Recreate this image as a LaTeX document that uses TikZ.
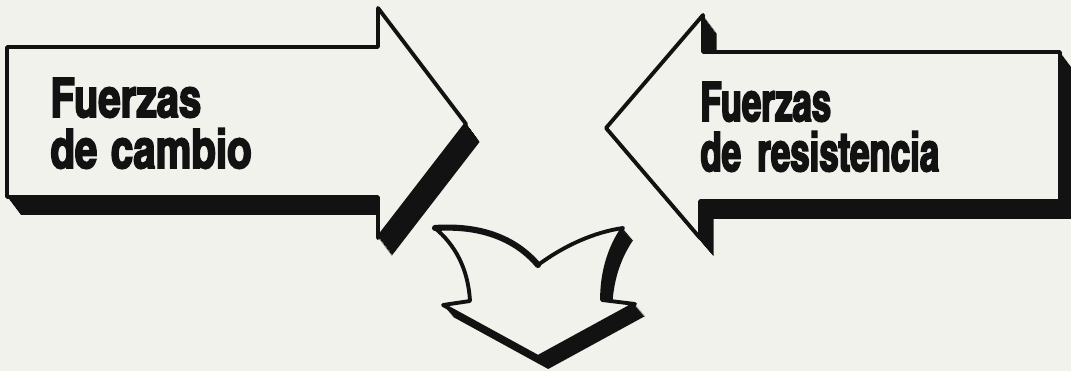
\documentclass[tikz,border=0pt]{standalone}
\usepackage{fontspec}
\newfontfamily\changefont{texgyreheroscn-bold.otf}[FakeBold=3, FakeStretch=0.9]
\newfontfamily\resistfont{texgyreheroscn-bold.otf}[FakeBold=3, FakeStretch=0.78]
\definecolor{paper}{RGB}{242,242,236}
\definecolor{ink}{RGB}{18,18,18}
\tikzset{
  change shape/.style={insert path={(7,47) -- (378,47) -- (378,8) -- (466,124)
      -- (378,238) -- (378,197) -- (7,197) -- cycle}},
  resist shape/.style={insert path={(1060,52) -- (703,52) -- (703,15) -- (606,128)
      -- (700,238) -- (700,201) -- (1060,201) -- cycle}},
  outcome shape/.style={insert path={(435,228) .. controls (480,225) and (515,238) .. (538,265)
      .. controls (565,245) and (595,232) .. (623,228)
      .. controls (608,250) and (602,275) .. (602,300)
      -- (635,304) -- (538,357) -- (443,305) -- (470,301)
      .. controls (468,268) and (455,245) .. (435,228) -- cycle}},
  arrowface/.style={fill=paper, draw=ink, line width=2.2pt, line join=round},
  arrowtext/.style={text=ink, inner sep=0pt, anchor=base west}
}
\begin{document}
\begin{tikzpicture}[x=0.02cm, y=-0.02cm]
  \fill[paper] (0,0) rectangle (1071,371);
  \useasboundingbox (0,0) rectangle (1071,371);
  % shadows
  \foreach \k in {1,...,18} {
    \fill[ink, shift={(\k*0.75,\k)}, change shape];
    \fill[ink, shift={(\k*0.75,\k)}, resist shape];
  }
  \foreach \k in {1,...,12}
    \fill[ink, shift={(\k*0.85,\k)}, outcome shape];
  % faces
  \path[arrowface, change shape];
  \path[arrowface, resist shape];
  \path[arrowface, outcome shape];
  \draw[ink, line width=3.5pt, line cap=round]
    (435,228) .. controls (480,225) and (515,238) .. (538,265);
  % labels
  \node[arrowtext, font=\changefont\fontsize{31}{36}\selectfont] (chgtop) at (50,117) {Fuerzas};
  \node[arrowtext, font=\changefont\fontsize{31}{36}\selectfont] (chgbot) at (50,168) {de\hspace{0.25em}cambio};
  \node[arrowtext, font=\resistfont\fontsize{31}{36}\selectfont] (restop) at (700,121) {Fuerzas};
  \node[arrowtext, font=\resistfont\fontsize{31}{36}\selectfont] (resbot) at (700,171) {de\hspace{0.3em}resistencia};
\end{tikzpicture}
\end{document}
